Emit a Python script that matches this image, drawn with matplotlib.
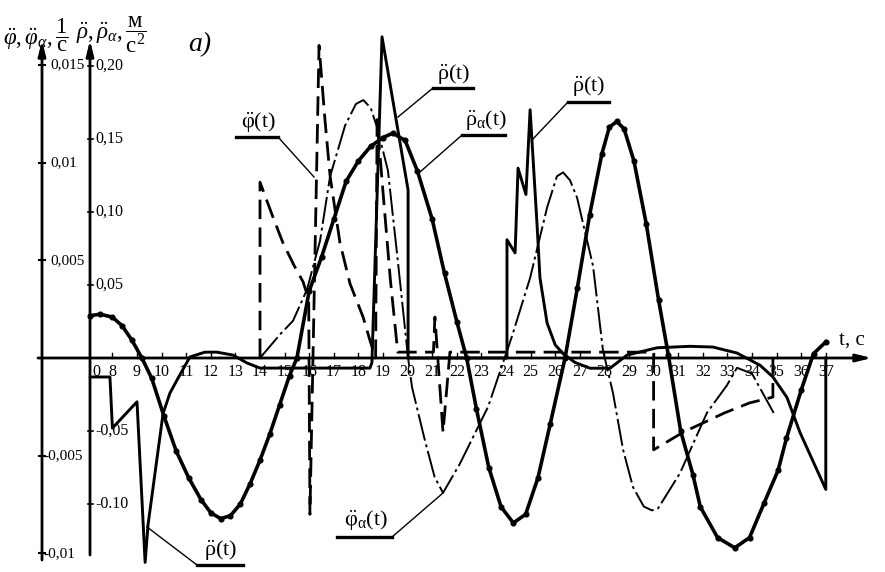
import matplotlib.pyplot as plt

plt.rcParams['font.family'] = ['Liberation Serif', 'DejaVu Serif']
plt.rcParams['mathtext.fontset'] = 'custom'
plt.rcParams['mathtext.rm'] = 'Liberation Serif'
plt.rcParams['mathtext.it'] = 'Liberation Serif:italic'
plt.rcParams['mathtext.bf'] = 'Liberation Serif:bold'

# --- data ---------------------------------------------------------------
# rho_a(t), m/s^2 (thick line with dots)
rho_a_t = [7.1, 7.5, 8.0, 8.4, 8.8, 9.2, 9.6, 10.1, 10.6, 11.1, 11.6, 12.0, 12.4,
           12.8, 13.2, 13.6, 14.0, 14.4, 14.8, 15.2, 15.5, 16.0, 16.5, 17.0, 17.5,
           18.0, 18.5, 19.0, 19.4, 19.9, 20.4, 21.0, 21.5, 22.0, 22.4, 22.8, 23.3,
           23.8, 24.3, 24.8, 25.3, 25.8, 26.4, 26.9, 27.4, 27.9, 28.2, 28.5, 28.8,
           29.2, 29.7, 30.2, 30.6, 31.1, 31.6, 31.9, 32.6, 33.3, 33.9, 34.5, 35.06,
           35.4, 36.0, 36.5, 37.0]
rho_a = [0.029, 0.030, 0.028, 0.022, 0.012, 0.0, -0.014, -0.040, -0.064, -0.082,
         -0.097, -0.106, -0.110, -0.108, -0.100, -0.086, -0.070, -0.052, -0.032,
         -0.012, 0.0, 0.046, 0.069, 0.095, 0.121, 0.135, 0.145, 0.151, 0.154, 0.149,
         0.128, 0.095, 0.058, 0.025, 0.0, -0.035, -0.075, -0.102, -0.113, -0.107,
         -0.082, -0.045, 0.0, 0.048, 0.098, 0.140, 0.158, 0.162, 0.157, 0.135, 0.092,
         0.040, 0.002, -0.050, -0.080, -0.102, -0.123, -0.130, -0.123, -0.099,
         -0.077, -0.055, -0.022, 0.003, 0.011]

# rho(t), m/s^2 (jagged solid line)
rho_t = [7.1, 7.9, 8.0, 9.0, 9.33, 9.45, 10.06, 10.34, 10.63, 11.15, 11.76, 12.25,
         12.9, 13.47, 14.0, 18.47, 18.55, 18.96, 20.02, 20.02, 24.04, 24.04, 24.37,
         24.49, 24.81, 24.98, 25.26, 25.38, 25.67, 26.0, 26.32, 26.8, 27.41, 28.23,
         28.92, 30.14, 31.48, 32.41, 33.39, 34.33, 34.85, 35.42, 35.95, 37.0, 37.0]
rho = [-0.013, -0.013, -0.048, -0.030, -0.140, -0.114, -0.038, -0.024, -0.015,
       0.0007, 0.004, 0.004, 0.002, -0.0034, -0.0069, -0.0069, -0.003, 0.220,
       0.115, 0.0, 0.0, 0.081, 0.072, 0.130, 0.112, 0.170, 0.092, 0.055, 0.024,
       0.009, 0.003, -0.003, -0.007, -0.007, 0.002, 0.007, 0.008, 0.0075, 0.0034,
       -0.005, -0.013, -0.027, -0.051, -0.090, 0.0]

# phi(t), 1/s^2 (dashed line)
phi_t = [14.0, 14.0, 14.5, 14.93, 15.4, 15.75, 15.98, 16.03, 16.4, 16.64, 16.85,
         17.25, 17.66, 18.19, 18.47, 18.7, 18.76, 19.0, 19.3, 19.6, 21.05, 21.11,
         21.44, 21.72, 30.0, 30.0, 31.2, 32.9, 33.9, 34.85, 34.85]
phi = [0.0, 0.0090, 0.0073, 0.0059, 0.0047, 0.0039, 0.0030, -0.0080, 0.0160,
       0.0122, 0.0093, 0.0059, 0.0038, 0.0021, 0.0009, 0.0, 0.0122, 0.0085, 0.0040,
       0.0003, 0.0003, 0.0021, -0.0038, 0.0003, 0.0003, -0.0047, -0.0038, -0.0028,
       -0.0023, -0.0020, 0.0]

# phi_a(t), 1/s^2 (dash-dot line)
phi_a_t = [14.0, 14.81, 15.34, 15.91, 16.44, 16.85, 17.46, 17.9, 18.2, 18.5, 18.76,
           19.2, 19.6, 20.02, 20.18, 20.7, 21.1, 21.44, 22.13, 23.27, 24.24, 24.98,
           25.67, 26.07, 26.32, 26.6, 26.89, 27.13, 27.54, 27.94, 28.35, 28.76, 29.16,
           29.6, 29.93, 30.18, 31.07, 32.17, 32.98, 33.39, 34.0, 34.92]
phi_a = [0.0, 0.0012, 0.0019, 0.0035, 0.0060, 0.0093, 0.0119, 0.0130, 0.0132,
         0.0128, 0.0118, 0.0096, 0.0050, 0.0, -0.0015, -0.0042, -0.0061, -0.0069,
         -0.0054, -0.0025, 0.0011, 0.0041, 0.0077, 0.0093, 0.0095, 0.0091, 0.0082,
         0.0069, 0.0047, 0.0004, -0.0018, -0.0047, -0.0066, -0.0076, -0.0078,
         -0.0077, -0.0059, -0.0028, -0.0014, -0.0005, -0.0008, -0.0029]

t_ticks = list(range(8, 38))
phi_ticks = [0.015, 0.01, 0.005, -0.005, -0.01]
phi_tick_labels = ['0,015', '0,01', '0,005', '-0,005', '-0,01']
rho_ticks = [0.20, 0.15, 0.10, 0.05, -0.05, -0.10]
rho_tick_labels = ['0,20', '0,15', '0,10', '0,05', '-0,05', '-0.10']

# --- layout of the scan (pixels) ----------------------------------------
W, H = 885, 572
PX_PER_S = 24.6          # t = 14 sits at x = 260 px
Y0 = 358                 # row of the time axis
RHO_PER_PX = 0.05 / 73
PHI_PER_PX = 0.005 / 97.7


def t_of(x):
    return 14.0 + (x - 260) / PX_PER_S


def px(x, y):
    return x / W, 1 - y / H


fig = plt.figure(figsize=(W / 100, H / 100), dpi=100)
ax = fig.add_axes([0, 0, 1, 1])
ax.set_xlim(t_of(0), t_of(W))
ax.set_ylim(-(H - Y0) * RHO_PER_PX, Y0 * RHO_PER_PX)
ax.axis('off')
ax2 = ax.twinx()
ax2.set_ylim(-(H - Y0) * PHI_PER_PX, Y0 * PHI_PER_PX)
ax2.axis('off')

# curves
ax.plot(rho_a_t, rho_a, color='k', lw=2.6, marker='o', ms=3.4, zorder=5)
ax.plot(rho_t, rho, color='k', lw=2.1, zorder=5)
ax2.plot(phi_t, phi, color='k', lw=2.0, dashes=(7, 3), zorder=4)
ax2.plot(phi_a_t, phi_a, color='k', lw=1.4, dashes=(14, 2, 1.5, 2), zorder=4)

# axes with arrows
def arrow(x0, y0, x1, y1):
    ax.annotate('', xy=px(x1, y1), xytext=px(x0, y0), xycoords='axes fraction',
                textcoords='axes fraction',
                arrowprops=dict(arrowstyle='-|>,head_length=0.9,head_width=0.22',
                                color='k', lw=2.0, shrinkA=0, shrinkB=0))

arrow(42, 560, 42, 40)
arrow(90, 555, 90, 40)
arrow(38, Y0, 872, Y0)

# time ticks and labels
for t in t_ticks:
    ax.plot([t, t], [0, 5 * RHO_PER_PX], color='k', lw=1)
    ax.text(t, -14 * RHO_PER_PX, str(t), ha='center', va='center', fontsize=11.5)
ax.text(t_of(96), -14 * RHO_PER_PX, '0', ha='center', va='center', fontsize=11.5)

# phi axis ticks
for v, lab in zip(phi_ticks, phi_tick_labels):
    ax2.plot([t_of(39), t_of(45)], [v, v], color='k', lw=1.5)
    x = 43 if v < 0 else 50
    ax2.text(t_of(x), v, lab, ha='left', va='center', fontsize=11)

# rho axis ticks
for v, lab in zip(rho_ticks, rho_tick_labels):
    ax.plot([t_of(88), t_of(93)], [v, v], color='k', lw=1.2)
    ax.text(t_of(95), v, lab, ha='left', va='center', fontsize=11.5)

# axis titles
ax.text(*px(3, 35), r'$\ddot{\varphi},\ddot{\varphi}_{\alpha},\dfrac{1}{\mathrm{с}}$',
        transform=ax.transAxes, ha='left', va='center', fontsize=16.5)
ax.text(*px(76, 35), r'$\ddot{\rho},\ddot{\rho}_{\alpha},\dfrac{\mathrm{м}}{\mathrm{с}^{2}}$',
        transform=ax.transAxes, ha='left', va='center', fontsize=16.5)
ax.text(*px(200, 45), 'a)', transform=ax.transAxes, ha='center', va='center',
        fontsize=20, style='italic')
ax.text(*px(852, 340), 't, с', transform=ax.transAxes, ha='center', va='center',
        fontsize=15)

# callouts: label, label centre, underline + leader polyline
callouts = [
    (r'$\mathrm{\ddot{\varphi}(t)}$', (258, 122), [(236, 137), (278, 137), (314, 177)]),
    (r'$\mathrm{\ddot{\rho}(t)}$', (454, 74), [(473, 88), (433, 88), (398, 117)]),
    (r'$\mathrm{\ddot{\rho}_{\alpha}(t)}$', (486, 120), [(505, 135), (462, 135), (420, 172)]),
    (r'$\mathrm{\ddot{\rho}(t)}$', (589, 86), [(609, 102), (568, 102), (532, 140)]),
    (r'$\mathrm{\ddot{\varphi}_{\alpha}(t)}$', (366, 520), [(337, 537), (392, 537), (443, 493)]),
    (r'$\mathrm{\ddot{\rho}(t)}$', (221, 550), [(243, 565), (197, 565), (147, 527)]),
]
for text, (lx, ly), pts in callouts:
    ax.text(*px(lx, ly), text, transform=ax.transAxes, ha='center', va='center',
            fontsize=16)
    xs = [px(x, y)[0] for x, y in pts]
    ys = [px(x, y)[1] for x, y in pts]
    ax.plot(xs[:2], ys[:2], transform=ax.transAxes, color='k', lw=2.4)
    ax.plot(xs[1:], ys[1:], transform=ax.transAxes, color='k', lw=1.0)

fig.savefig('out.png', dpi=100, facecolor='white')
